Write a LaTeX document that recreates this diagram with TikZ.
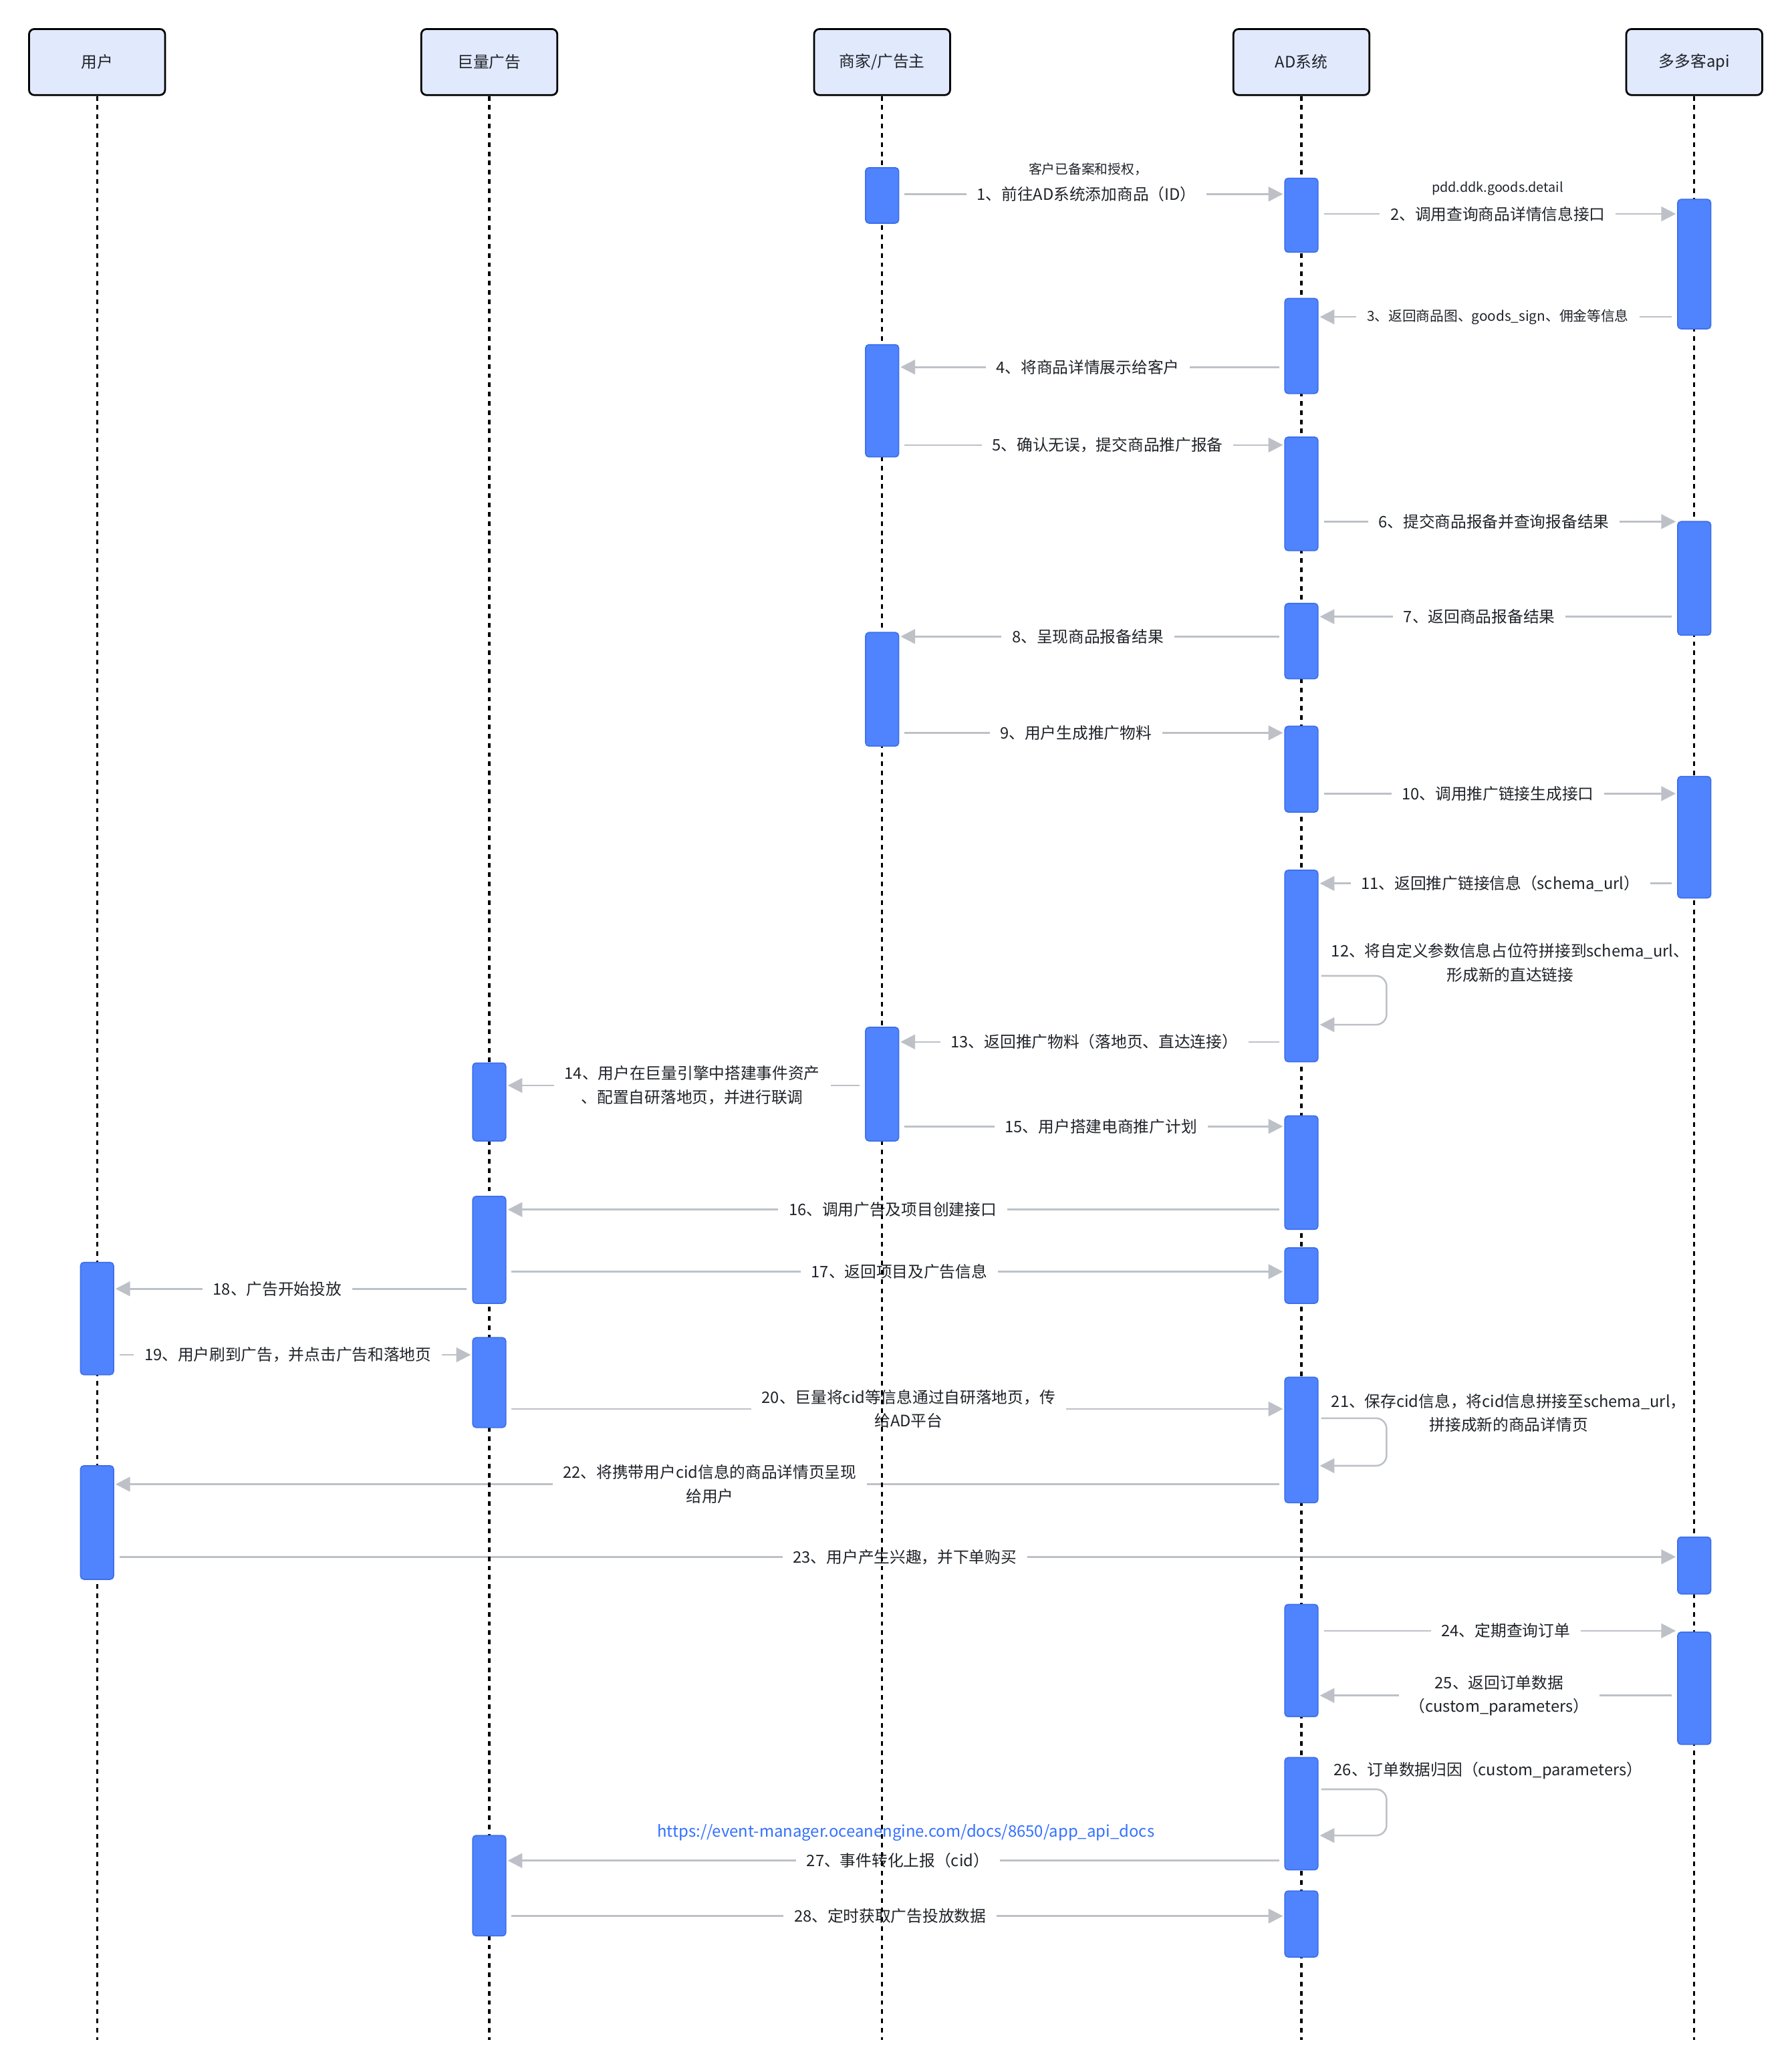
\documentclass[tikz,border=0pt]{standalone}
\usepackage{fontspec}
\setmainfont{Noto Sans CJK SC}
\usetikzlibrary{arrows.meta}
\definecolor{hdrfill}{RGB}{225,233,253}
\definecolor{barfill}{RGB}{80,132,255}
\definecolor{barline}{RGB}{62,112,235}
\definecolor{arrgray}{RGB}{189,193,199}
\definecolor{txt}{RGB}{31,35,41}
\definecolor{linkblue}{RGB}{51,112,255}
\pgfdeclarelayer{msgs}
\pgfdeclarelayer{lifes}
\pgfsetlayers{msgs,lifes,main}
\tikzset{
  hdr/.style={draw=black, line width=1.4pt, fill=hdrfill, rounded corners=4pt,
    minimum width=103pt, minimum height=50pt, inner sep=0pt,
    font=\fontsize{12}{14}\selectfont, text=txt},
  actbar/.style={draw=barline, line width=0.9pt, fill=barfill, rounded corners=2.5pt,
    minimum width=25pt, inner sep=0pt},
  life/.style={draw=black, line width=1.6pt, dash pattern=on 3.5pt off 3.5pt},
  msg/.style={draw=arrgray, line width=1.3pt, -{Triangle[length=11pt,width=11pt]},
    shorten <=4pt, shorten >=1pt},
  loopmsg/.style={msg, rounded corners=8pt, shorten <=2pt},
  lbl/.style={fill=white, text=txt, font=\fontsize{12}{18}\selectfont,
    inner xsep=8pt, inner ysep=2pt, align=center},
  smalllbl/.style={lbl, font=\fontsize{10.5}{14}\selectfont},
  looplbl/.style={text=txt, font=\fontsize{12}{18}\selectfont, inner sep=0pt,
    align=center, anchor=west},
  note/.style={text=txt, font=\fontsize{10}{12}\selectfont, inner sep=0pt},
  linknote/.style={text=linkblue, font=\fontsize{12.1}{14}\selectfont, inner sep=0pt},
}
\newcommand\mkbar[4]{\node[actbar, minimum height={(#4-#3)*1pt}] (#1) at (#2,{-(#3+#4)/2}) {};}
\begin{document}
\begin{tikzpicture}[x=1pt,y=1pt]
\useasboundingbox (0,0) rectangle (1357,-1567.6);

% headers
\node[hdr] (hu) at (73.5,-47) {用户};
\node[hdr] (hj) at (370.5,-47) {巨量广告};
\node[hdr] (hs) at (668,-47) {商家/广告主};
\node[hdr] (ha) at (985.5,-47) {AD系统};
\node[hdr] (hp) at (1283,-47) {多多客api};

% activation bars
\mkbar{s1}{668}{127}{169}
\mkbar{s2}{668}{261}{346}
\mkbar{s3}{668}{479}{565}
\mkbar{s4}{668}{778}{864}
\mkbar{d1}{985.5}{135}{191}
\mkbar{d2}{985.5}{226}{298}
\mkbar{d3}{985.5}{331}{417}
\mkbar{d4}{985.5}{457}{514}
\mkbar{d5}{985.5}{550}{615}
\mkbar{d6}{985.5}{659}{804}
\mkbar{d7}{985.5}{845}{931}
\mkbar{d8}{985.5}{945}{987}
\mkbar{d9}{985.5}{1043}{1138}
\mkbar{d10}{985.5}{1215}{1300}
\mkbar{d11}{985.5}{1331}{1416}
\mkbar{d12}{985.5}{1432}{1482}
\mkbar{p1}{1283}{151}{249}
\mkbar{p2}{1283}{395}{481}
\mkbar{p3}{1283}{588}{680}
\mkbar{p4}{1283}{1164}{1207}
\mkbar{p5}{1283}{1236}{1321}
\mkbar{b1}{370.5}{805}{864}
\mkbar{b2}{370.5}{906}{987}
\mkbar{b3}{370.5}{1013}{1081}
\mkbar{b4}{370.5}{1390}{1466}
\mkbar{u1}{73.5}{956}{1041}
\mkbar{u2}{73.5}{1110}{1196}

% lifelines
\begin{pgfonlayer}{lifes}
\coordinate (eu) at (73.5,-1545);
\coordinate (ej) at (370.5,-1545);
\coordinate (es) at (668,-1545);
\coordinate (ea) at (985.5,-1545);
\coordinate (ep) at (1283,-1545);
\draw[life] (hu.south) -- (eu);
\draw[life] (hj.south) -- (ej);
\draw[life] (hs.south) -- (es);
\draw[life] (ha.south) -- (ea);
\draw[life] (hp.south) -- (ep);
\end{pgfonlayer}

% messages
\begin{pgfonlayer}{msgs}
\node[note] (n1) at (824,-128) {客户已备案和授权，};
\draw[msg] (s1.east |- 0,-147) -- node[lbl,xshift=-4pt] (m1) {1、前往AD系统添加商品（ID）} (d1.west |- 0,-147);
\node[note] (n2) at (1134,-143) {pdd.ddk.goods.detail};
\draw[msg] (d1.east |- 0,-162) -- node[lbl] (m2) {2、调用查询商品详情信息接口} (p1.west |- 0,-162);
\draw[msg] (p1.west |- 0,-240) -- node[smalllbl] (m3) {3、返回商品图、goods\_sign、佣金等信息} (d2.east |- 0,-240);
\draw[msg] (d2.west |- 0,-278) -- node[lbl,xshift=-3pt] (m4) {4、将商品详情展示给客户} (s2.east |- 0,-278);
\draw[msg] (s2.east |- 0,-337) -- node[lbl,xshift=12pt] (m5) {5、确认无误，提交商品推广报备} (d3.west |- 0,-337);
\draw[msg] (d3.east |- 0,-395) -- node[lbl,xshift=-3pt] (m6) {6、提交商品报备并查询报备结果} (p2.west |- 0,-395);
\draw[msg] (p2.west |- 0,-467) -- node[lbl,xshift=-14pt] (m7) {7、返回商品报备结果} (d4.east |- 0,-467);
\draw[msg] (d4.west |- 0,-482) -- node[lbl,xshift=-3pt] (m8) {8、呈现商品报备结果} (s3.east |- 0,-482);
\draw[msg] (s3.east |- 0,-555) -- node[lbl,xshift=-12pt] (m9) {9、用户生成推广物料} (d5.west |- 0,-555);
\draw[msg] (d5.east |- 0,-601) -- node[lbl] (m10) {10、调用推广链接生成接口} (p3.west |- 0,-601);
\draw[msg] (p3.west |- 0,-669) -- node[lbl,xshift=2pt] (m11) {11、返回推广链接信息（schema\_url）} (d6.east |- 0,-669);
\node[looplbl] (m12) at (1008,-729) {12、将自定义参数信息占位符拼接到schema\_url、\\形成新的直达链接};
\draw[loopmsg] (d6.east |- 0,-739) -- (1050,-739) -- (1050,-776) -- (d6.east |- 0,-776);
\draw[msg] (d6.west |- 0,-789) -- node[lbl,xshift=2pt] (m13) {13、返回推广物料（落地页、直达连接）} (s4.east |- 0,-789);
\draw[msg] (s4.west |- 0,-822) -- node[lbl,xshift=5pt] (m14) {14、用户在巨量引擎中搭建事件资产\\、配置自研落地页，并进行联调} (b1.east |- 0,-822);
\draw[msg] (s4.east |- 0,-853) -- node[lbl,xshift=7pt] (m15) {15、用户搭建电商推广计划} (d7.west |- 0,-853);
\draw[msg] (d7.west |- 0,-916) -- node[lbl,xshift=-2pt] (m16) {16、调用广告及项目创建接口} (b2.east |- 0,-916);
\draw[msg] (b2.east |- 0,-963) -- node[lbl,xshift=3pt] (m17) {17、返回项目及广告信息} (d8.west |- 0,-963);
\draw[msg] (b2.west |- 0,-976) -- node[lbl,xshift=-12pt] (m18) {18、广告开始投放} (u1.east |- 0,-976);
\draw[msg] (u1.east |- 0,-1026) -- node[lbl,xshift=-4pt] (m19) {19、用户刷到广告，并点击广告和落地页} (b3.west |- 0,-1026);
\draw[msg] (b3.east |- 0,-1067) -- node[lbl,xshift=10pt] (m20) {20、巨量将cid等信息通过自研落地页，传\\给AD平台} (d9.west |- 0,-1067);
\node[looplbl] (m21) at (1008,-1070) {21、保存cid信息，将cid信息拼接至schema\_url，\\拼接成新的商品详情页};
\draw[loopmsg] (d9.east |- 0,-1074) -- (1050,-1074) -- (1050,-1110) -- (d9.east |- 0,-1110);
\draw[msg] (d9.west |- 0,-1124) -- node[lbl,xshift=8pt] (m22) {22、将携带用户cid信息的商品详情页呈现\\给用户} (u2.east |- 0,-1124);
\draw[msg] (u2.east |- 0,-1179) -- node[lbl,xshift=7pt] (m23) {23、用户产生兴趣，并下单购买} (p4.west |- 0,-1179);
\draw[msg] (d10.east |- 0,-1235) -- node[lbl,xshift=6pt] (m24) {24、定期查询订单} (p5.west |- 0,-1235);
\draw[msg] (p5.west |- 0,-1284) -- node[lbl,xshift=1pt] (m25) {25、返回订单数据\\（custom\_parameters）} (d10.east |- 0,-1284);
\node[looplbl] (m26) at (1010,-1341) {26、订单数据归因（custom\_parameters）};
\draw[loopmsg] (d11.east |- 0,-1355) -- (1050,-1355) -- (1050,-1390) -- (d11.east |- 0,-1390);
\node[linknote] (n27) at (686,-1388) {https://event-manager.oceanengine.com/docs/8650/app\_api\_docs};
\draw[msg] (d11.west |- 0,-1409) -- node[lbl,xshift=2pt] (m27) {27、事件转化上报（cid）} (b4.east |- 0,-1409);
\draw[msg] (b4.east |- 0,-1451) -- node[lbl,xshift=-4pt] (m28) {28、定时获取广告投放数据} (d12.west |- 0,-1451);
\end{pgfonlayer}
\end{tikzpicture}
\end{document}
